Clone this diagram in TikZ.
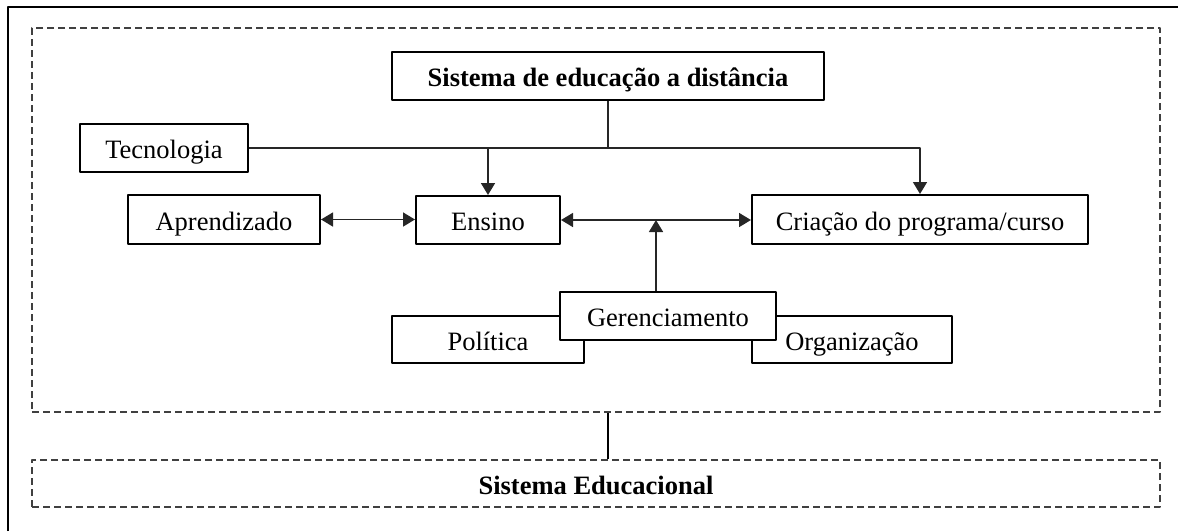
\documentclass[tikz,border=0pt]{standalone}
\usepackage{fontspec}
\setmainfont{Liberation Serif}
\usetikzlibrary{arrows.meta}
\begin{document}
\begin{tikzpicture}[x=1pt, y=-1pt, >={Triangle[length=12pt,width=14pt]}, line join = round,
	font=\fontsize{26.5}{30}\selectfont,
	caixa/.style={draw, line width=2pt, fill=white, inner sep=0pt, text height=27pt, text depth=6pt},
	tracejado/.style={draw=black!75, line width=1.5pt, dash pattern=on 7pt off 4pt, inner sep=0pt, text height=27pt, text depth=6pt},
	liga/.style={line width=1.6pt, black!85}]
	\useasboundingbox (0,0) rectangle (1178,531);
	\draw [line width=2.4pt] (8,531) -- (8,7) -- (1178,7);
	% caixas
	\node [tracejado, minimum width=1128pt, minimum height=384pt] (ead) at (596,220) {};
	\node [tracejado, minimum width=1128pt, minimum height=47pt] (sisedu) at (596,483.5) {\bfseries Sistema Educacional};
	\node [caixa, minimum width=432pt, minimum height=48pt] (titulo) at (608,76) {\bfseries Sistema de educação a distância};
	\node [caixa, minimum width=168pt, minimum height=48pt] (tecno) at (164,148) {Tecnologia};
	\node [caixa, minimum width=192pt, minimum height=49pt] (aprend) at (224,219.5) {Aprendizado};
	\node [caixa, minimum width=144pt, minimum height=48pt] (ensino) at (488,220) {Ensino};
	\node [caixa, minimum width=336pt, minimum height=49pt] (criacao) at (920,219.5) {Criação do programa/curso};
	\node [caixa, minimum width=192pt, minimum height=47pt] (politica) at (488,339.5) {Política};
	\node [caixa, minimum width=200pt, minimum height=47pt] (organiz) at (852,339.5) {Organização};
	\node [caixa, minimum width=216pt, minimum height=48pt] (gerenc) at (668,316) {Gerenciamento};
	\coordinate (g) at (656,220);
	% ligacoes
	\draw [liga] (titulo.south) -- (titulo.south |- tecno.east);
	\draw [liga,->] (tecno.east) -| (criacao.north);
	\draw [liga,->] (ensino.north |- tecno.east) -- (ensino.north);
	\draw [liga,<->] (aprend.east) -- (aprend.east -| ensino.west);
	\draw [liga,<->] (ensino.east) -- (ensino.east -| criacao.west);
	\draw [liga,->] (g |- gerenc.north) -- (g);
	\draw [line width=2.4pt] (ead.south -| titulo.south) -- (sisedu.north -| titulo.south);
\end{tikzpicture}
\end{document}
